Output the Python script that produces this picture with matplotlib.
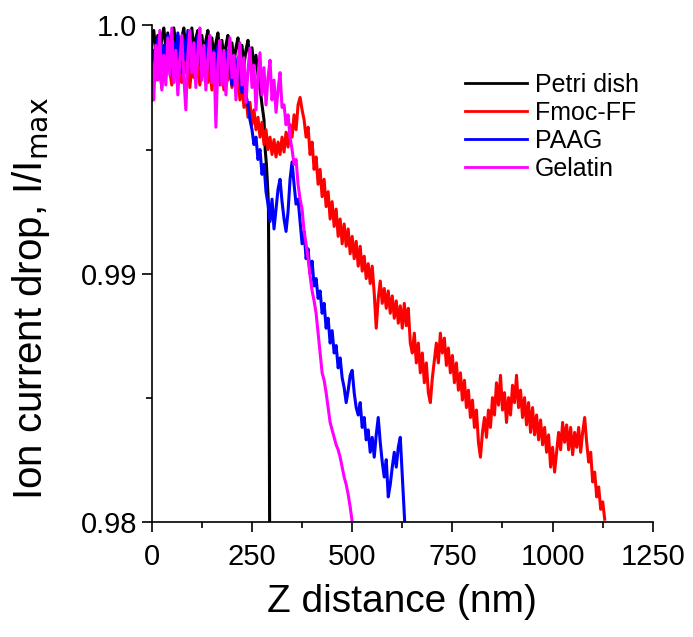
import numpy as np
import matplotlib.pyplot as plt

plt.rcParams['font.family'] = ['Liberation Sans', 'DejaVu Sans']

# Petri dish
x_petri = [0, 0, 5, 10, 15, 20, 25, 30, 35, 40, 45, 50, 55, 60, 65, 70, 75, 80, 85, 90, 95,
           100, 105, 110, 115, 120, 125, 130, 135, 140, 145, 150, 155, 160, 165, 170, 175,
           180, 185, 190, 195, 200, 205, 210, 215, 220, 225, 230, 235, 240, 245, 250, 255,
           260, 265, 270, 275, 280, 283, 286, 289, 291, 292, 293, 294]
y_petri = [0.9970, 0.9993, 0.9998, 0.9990, 0.9996, 0.9987, 0.9995, 0.9999, 0.9991, 0.9997,
           0.9989, 0.9994, 0.9999, 0.9992, 0.9996, 0.9988, 0.9995, 0.9999, 0.9990, 0.9996,
           0.9993, 0.9999, 0.9989, 0.9995, 0.9998, 0.9991, 0.9996, 0.9988, 0.9994, 0.9998,
           0.9990, 0.9995, 0.9987, 0.9993, 0.9997, 0.9989, 0.9994, 0.9986, 0.9992, 0.9996,
           0.9988, 0.9993, 0.9985, 0.9991, 0.9995, 0.9987, 0.9992, 0.9984, 0.9990, 0.9994,
           0.9986, 0.9991, 0.9983, 0.9988, 0.9980, 0.9975, 0.9968, 0.9962, 0.9950, 0.9944,
           0.9935, 0.9928, 0.9900, 0.9850, 0.9800]

# Fmoc-FF
x_fmoc = list(range(0, 1135, 5))
y_fmoc = [0.9972, 0.9985, 0.9978, 0.9990, 0.9981, 0.9975, 0.9988, 0.9979, 0.9993, 0.9982,
          0.9976, 0.9987, 0.9980, 0.9994, 0.9983, 0.9977, 0.9989, 0.9981, 0.9986, 0.9975,
          0.9984, 0.9979, 0.9990, 0.9982, 0.9976, 0.9986, 0.9980, 0.9988, 0.9977, 0.9983,
          0.9974, 0.9985, 0.9979, 0.9987, 0.9976, 0.9982, 0.9974, 0.9984, 0.9978, 0.9986,
          0.9975, 0.9981, 0.9973, 0.9980, 0.9970, 0.9976, 0.9967, 0.9972, 0.9963, 0.9969,
          0.9960, 0.9966, 0.9958, 0.9963, 0.9955, 0.9961, 0.9952, 0.9958, 0.9950, 0.9955,
          0.9948, 0.9954, 0.9947, 0.9953, 0.9948, 0.9955, 0.9949, 0.9957, 0.9951, 0.9960,
          0.9955, 0.9964, 0.9958, 0.9968, 0.9971, 0.9966, 0.9962, 0.9955, 0.9959, 0.9948,
          0.9953, 0.9942, 0.9947, 0.9936, 0.9942, 0.9931, 0.9938, 0.9927, 0.9933, 0.9922,
          0.9929, 0.9919, 0.9926, 0.9915, 0.9922, 0.9912, 0.9920, 0.9911, 0.9918, 0.9908,
          0.9915, 0.9906, 0.9913, 0.9903, 0.9911, 0.9901, 0.9907, 0.9898, 0.9904, 0.9896,
          0.9903, 0.9892, 0.9878, 0.9890, 0.9897, 0.9888, 0.9894, 0.9886, 0.9893, 0.9884,
          0.9891, 0.9882, 0.9889, 0.9880, 0.9887, 0.9878, 0.9888, 0.9879, 0.9886, 0.9872,
          0.9868, 0.9876, 0.9864, 0.9872, 0.9860, 0.9868, 0.9856, 0.9864, 0.9852, 0.9848,
          0.9858, 0.9865, 0.9872, 0.9864, 0.9876, 0.9868, 0.9874, 0.9863, 0.9870, 0.9860,
          0.9867, 0.9856, 0.9864, 0.9853, 0.9860, 0.9849, 0.9857, 0.9846, 0.9853, 0.9842,
          0.9849, 0.9838, 0.9845, 0.9832, 0.9826, 0.9836, 0.9842, 0.9834, 0.9845, 0.9838,
          0.9850, 0.9843, 0.9856, 0.9847, 0.9859, 0.9845, 0.9852, 0.9840, 0.9850, 0.9843,
          0.9855, 0.9848, 0.9859, 0.9846, 0.9853, 0.9842, 0.9850, 0.9839, 0.9848, 0.9836,
          0.9846, 0.9835, 0.9843, 0.9833, 0.9841, 0.9831, 0.9838, 0.9828, 0.9835, 0.9822,
          0.9830, 0.9820, 0.9828, 0.9836, 0.9829, 0.9840, 0.9832, 0.9839, 0.9829, 0.9838,
          0.9827, 0.9836, 0.9830, 0.9838, 0.9828, 0.9836, 0.9842, 0.9832, 0.9824, 0.9828,
          0.9816, 0.9820, 0.9810, 0.9814, 0.9805, 0.9808, 0.9801]

# PAAG
x_paag = list(range(0, 625, 5)) + [626, 629, 631]
y_paag = [0.9972, 0.9990, 0.9982, 0.9995, 0.9985, 0.9978, 0.9992, 0.9984, 0.9996, 0.9986,
          0.9980, 0.9993, 0.9985, 0.9997, 0.9987, 0.9981, 0.9994, 0.9986, 0.9998, 0.9988,
          0.9982, 0.9993, 0.9985, 0.9996, 0.9986, 0.9980, 0.9991, 0.9983, 0.9994, 0.9985,
          0.9979, 0.9990, 0.9982, 0.9992, 0.9984, 0.9978, 0.9989, 0.9981, 0.9990, 0.9982,
          0.9976, 0.9986, 0.9979, 0.9987, 0.9978, 0.9973, 0.9981, 0.9972, 0.9968, 0.9962,
          0.9958, 0.9952, 0.9955, 0.9946, 0.9950, 0.9940, 0.9944, 0.9933, 0.9928, 0.9921,
          0.9930, 0.9918, 0.9926, 0.9934, 0.9938, 0.9929, 0.9922, 0.9917, 0.9925, 0.9938,
          0.9945, 0.9936, 0.9928, 0.9930, 0.9921, 0.9912, 0.9917, 0.9906, 0.9910, 0.9900,
          0.9905, 0.9895, 0.9898, 0.9890, 0.9893, 0.9884, 0.9888, 0.9878, 0.9882, 0.9872,
          0.9877, 0.9868, 0.9871, 0.9862, 0.9866, 0.9858, 0.9854, 0.9848, 0.9853, 0.9859,
          0.9861, 0.9852, 0.9846, 0.9843, 0.9848, 0.9838, 0.9842, 0.9833, 0.9837, 0.9828,
          0.9834, 0.9826, 0.9835, 0.9842, 0.9832, 0.9824, 0.9818, 0.9825, 0.9810, 0.9815,
          0.9822, 0.9828, 0.9822, 0.9830, 0.9834, 0.9815, 0.9805, 0.9800]

# Gelatin
x_gel = list(range(0, 505, 5))
y_gel = [0.9985, 0.9970, 0.9992, 0.9978, 0.9998, 0.9974, 0.9988, 0.9976, 0.9995, 0.9980,
         0.9999, 0.9977, 0.9990, 0.9972, 0.9986, 0.9996, 0.9979, 0.9966, 0.9988, 0.9998,
         0.9981, 0.9993, 0.9975, 0.9990, 0.9999, 0.9978, 0.9992, 0.9974, 0.9987, 0.9996,
         0.9977, 0.9989, 0.9959, 0.9985, 0.9994, 0.9976, 0.9990, 0.9972, 0.9986, 0.9995,
         0.9979, 0.9988, 0.9970, 0.9984, 0.9993, 0.9976, 0.9987, 0.9969, 0.9982, 0.9991,
         0.9975, 0.9984, 0.9966, 0.9980, 0.9989, 0.9972, 0.9983, 0.9968, 0.9979, 0.9986,
         0.9970, 0.9978, 0.9965, 0.9974, 0.9981, 0.9967, 0.9968, 0.9960, 0.9964, 0.9955,
         0.9950, 0.9944, 0.9946, 0.9936, 0.9930, 0.9926, 0.9917, 0.9912, 0.9906, 0.9899,
         0.9893, 0.9889, 0.9884, 0.9876, 0.9868, 0.9860, 0.9857, 0.9852, 0.9846, 0.9840,
         0.9837, 0.9834, 0.9831, 0.9829, 0.9826, 0.9822, 0.9818, 0.9815, 0.9811, 0.9806,
         0.9800]

series_names = ['Petri dish', 'Fmoc-FF', 'PAAG', 'Gelatin']
series_colors = ['black', '#ff0000', '#0000ff', '#ff00ff']

x_ticks = [0, 250, 500, 750, 1000, 1250]
y_ticks = [0.98, 0.99, 1.0]
y_tick_labels = ['0.98', '0.99', '1.0']

fig = plt.figure(figsize=(6.93, 6.37), dpi=100)
ax = fig.add_axes([0.219, 0.181, 0.723, 0.779])

data = [(x_petri, y_petri), (x_fmoc, y_fmoc), (x_paag, y_paag), (x_gel, y_gel)]
for (xs, ys), name, col in zip(data, series_names, series_colors):
    ax.plot(xs, ys, color=col, lw=2.2, label=name)

ax.set_xlim(0, 1250)
ax.set_ylim(0.98, 1.0)
ax.set_xticks(x_ticks)
ax.set_xticks([125, 375, 625, 875, 1125], minor=True)
ax.set_yticks(y_ticks)
ax.set_yticklabels(y_tick_labels)
ax.set_yticks([0.985, 0.995], minor=True)
ax.tick_params(which='major', length=7, width=1.2, labelsize=21, direction='out')
ax.tick_params(axis='x', which='major', pad=8)
ax.tick_params(which='minor', length=4, width=1.2, direction='out')
for s in ['top', 'right']:
    ax.spines[s].set_visible(False)
for s in ['left', 'bottom']:
    ax.spines[s].set_linewidth(1.2)

ax.set_xlabel('Z distance (nm)', fontsize=28)
ax.xaxis.set_label_coords(0.5, -0.125)
ax.set_ylabel('Ion current drop, I/I$_{\\mathrm{max}}$', fontsize=29)
ax.yaxis.set_label_coords(-0.2, 0.45)

leg = ax.legend(loc='upper left', bbox_to_anchor=(0.625, 0.905), frameon=False,
                fontsize=18, handlelength=2.5, handletextpad=0.3, labelspacing=0.16,
                borderpad=0, borderaxespad=0)
for l in leg.get_lines():
    l.set_linewidth(2)

fig.savefig('out.png', dpi=100)
